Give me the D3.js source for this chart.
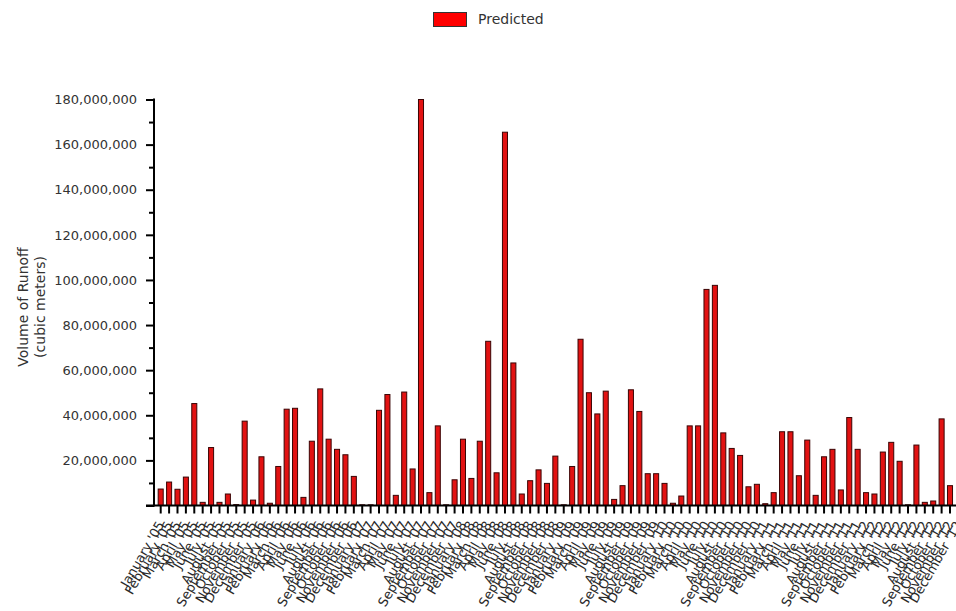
<!DOCTYPE html>
<html>
<head>
<meta charset="utf-8">
<script src="https://cdn.jsdelivr.net/npm/d3@7"></script>
<style>
  html, body { margin: 0; padding: 0; background: #fff; }
  svg { display: block; font-family: "DejaVu Sans", Verdana, sans-serif; }
</style>
</head>
<body>
<svg id="chart" width="956" height="611"></svg>
<script>
// ---- data ----
const monthNames = ["January","February","March","April","May","June","July","August","September","October","November","December"];
const years = ["05","06","07","08","09","10","11","12"];
const categories = [];
years.forEach(y => monthNames.forEach(m => categories.push(m + " '" + y)));

// Predicted runoff volume (cubic meters) (millions)
const predictedMillions = [
  // 2005
  7.3, 10.4, 7.2, 12.6, 45.2, 1.4, 25.7, 1.4, 5.1, 0.4, 37.4, 2.4,
  // 2006
  21.6, 1.0, 17.3, 42.7, 43.1, 3.6, 28.5, 51.7, 29.4, 24.9, 22.5, 12.9,
  // 2007
  0.3, 0.3, 42.2, 49.2, 4.5, 50.3, 16.2, 180.0, 5.7, 35.3, 0.3, 11.4,
  // 2008
  29.4, 12.0, 28.5, 72.8, 14.5, 165.5, 63.2, 5.1, 11.0, 15.8, 9.8, 21.9,
  // 2009
  0.3, 17.3, 73.7, 50.0, 40.6, 50.7, 2.7, 8.8, 51.3, 41.7, 14.1, 14.1,
  // 2010
  9.8, 1.0, 4.2, 35.3, 35.3, 95.8, 97.6, 32.2, 25.3, 22.2, 8.3, 9.4,
  // 2011
  0.8, 5.7, 32.7, 32.7, 13.2, 29.0, 4.5, 21.6, 24.9, 6.9, 39.0, 24.9,
  // 2012 (last month falls outside the visible picture)
  5.7, 5.1, 23.7, 28.0, 19.6, 0.3, 26.8, 1.4, 2.0, 38.4, 8.8, null
];
const yMajorTicks = [0, 20e6, 40e6, 60e6, 80e6, 100e6, 120e6, 140e6, 160e6, 180e6];
const yMinorTicks = [10e6, 30e6, 50e6, 70e6, 90e6, 110e6, 130e6, 150e6, 170e6];
const seriesName = "Predicted";
const yTitle = ["Volume of Runoff", "(cubic meters)"];

const data = categories.map((c, i) => ({ cat: c, value: predictedMillions[i] == null ? null : predictedMillions[i] * 1e6 }));

// ---- layout ----
const svg = d3.select("#chart");
const axisX = 154, baseY = 505.5, topY = 99.5;

const x = d3.scaleBand()
  .domain(categories)
  .range([156.5, 962.6])
  .paddingInner(0.4)
  .paddingOuter(0.2);

const y = d3.scaleLinear().domain([0, 180e6]).range([baseY, topY]);

// bars
svg.append("g")
  .selectAll("rect")
  .data(data.filter(d => d.value != null))
  .join("rect")
  .attr("x", d => x(d.cat))
  .attr("y", d => y(d.value))
  .attr("width", x.bandwidth())
  .attr("height", d => baseY - y(d.value))
  .attr("fill", "#e21212")
  .attr("stroke", "#3a0505")
  .attr("stroke-width", 1);

// y axis
const fmt = d3.format(",");
const yAxis = svg.append("g")
  .attr("transform", `translate(${axisX},0)`)
  .call(d3.axisLeft(y).tickValues(yMajorTicks).tickSize(8).tickPadding(9)
        .tickFormat(d => d === 0 ? "" : fmt(d)));
yAxis.select(".domain").remove();
yAxis.selectAll(".tick line").attr("stroke", "#000").attr("stroke-width", 2);
yAxis.selectAll(".tick text")
  .attr("fill", "#333").style("font-size", "13px")
  .style("font-family", "'DejaVu Sans', Verdana, sans-serif");

const yMinor = svg.append("g")
  .attr("transform", `translate(${axisX},0)`)
  .call(d3.axisLeft(y).tickValues(yMinorTicks).tickSize(5).tickFormat(""));
yMinor.select(".domain").remove();
yMinor.selectAll(".tick line").attr("stroke", "#000").attr("stroke-width", 2);

svg.append("line")
  .attr("x1", axisX).attr("x2", axisX)
  .attr("y1", topY - 1).attr("y2", baseY + 1)
  .attr("stroke", "#000").attr("stroke-width", 2);

// x axis
const xAxis = svg.append("g")
  .attr("transform", `translate(0,${baseY})`)
  .call(d3.axisBottom(x).tickSize(8).tickSizeOuter(0).tickFormat(d => d));
xAxis.select(".domain").remove();
xAxis.selectAll(".tick line").attr("stroke", "#000").attr("stroke-width", 2);
xAxis.selectAll(".tick text")
  .attr("fill", "#2a2a2a")
  .style("font-size", "13px")
  .style("font-family", "'DejaVu Sans', Verdana, sans-serif")
  .attr("text-anchor", "end")
  .attr("y", 0).attr("dy", 0)
  .attr("transform", "translate(4,19) rotate(-60)");

svg.append("line")
  .attr("x1", 146).attr("x2", 956)
  .attr("y1", baseY).attr("y2", baseY)
  .attr("stroke", "#000").attr("stroke-width", 2);

// y title
const yt = svg.append("text")
  .attr("transform", "translate(0,307) rotate(-90)")
  .attr("text-anchor", "middle")
  .attr("fill", "#333")
  .style("font-size", "14px");
yt.append("tspan").attr("x", 0).attr("y", 28).text(yTitle[0]);
yt.append("tspan").attr("x", 0).attr("y", 45).text(yTitle[1]);

// legend
const lg = svg.append("g");
lg.append("rect").attr("x", 433.5).attr("y", 12.5).attr("width", 33).attr("height", 14)
  .attr("fill", "#ff0000").attr("stroke", "#333").attr("stroke-width", 1);
lg.append("text").attr("x", 478).attr("y", 24).attr("fill", "#333")
  .style("font-size", "14px").text(seriesName);
</script>
</body>
</html>
